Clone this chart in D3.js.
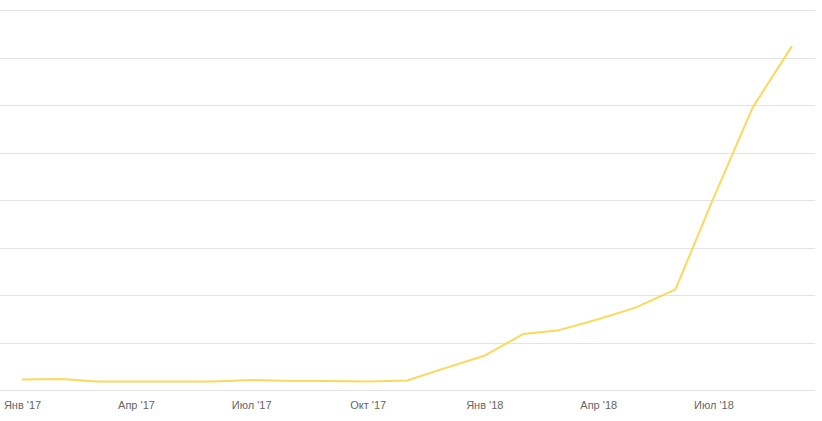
<!DOCTYPE html>
<html>
<head>
<meta charset="utf-8">
<script src="https://cdn.jsdelivr.net/npm/d3@7"></script>
<style>
  body { margin: 0; background: #fff; }
  svg { display: block; font-family: "Liberation Sans", Arial, sans-serif; }
</style>
</head>
<body>
<div id="chart"></div>
<script>
// monthly values, Jan 2017 .. Sep 2018
var months = [
  "2017-01", "2017-02", "2017-03", "2017-04", "2017-05", "2017-06", "2017-07",
  "2017-08", "2017-09", "2017-10", "2017-11", "2017-12",
  "2018-01", "2018-02", "2018-03", "2018-04", "2018-05", "2018-06", "2018-07",
  "2018-08", "2018-09"
];
var values = [22, 23, 18, 18, 18, 18, 21, 19, 19, 18, 20, 46,
  72, 118, 126, 149, 174, 212, 404, 595, 724];

var yTicks = [0, 100, 200, 300, 400, 500, 600, 700, 800];
var monthNames = ["Янв", "Фев", "Мар", "Апр", "Май", "Июн", "Июл", "Авг", "Сен", "Окт", "Ноя", "Дек"];

var ctx = { w: 822, h: 421 };

var parse = d3.timeParse("%Y-%m");
var data = months.map(function (m, i) { return { date: parse(m), value: values[i] }; });

var svg = d3.select("#chart").append("svg")
  .attr("width", ctx.w)
  .attr("height", ctx.h);

var x = d3.scaleTime()
  .domain([parse("2017-01"), parse("2018-09")])
  .range([22, 792]);

var y = d3.scaleLinear()
  .domain([0, 800])
  .range([390, 10]);

// horizontal grid
svg.append("g")
  .selectAll("line")
  .data(yTicks)
  .enter()
  .append("line")
  .attr("x1", 0)
  .attr("x2", 815)
  .attr("y1", function (d) { return Math.round(y(d)) + 0.5; })
  .attr("y2", function (d) { return Math.round(y(d)) + 0.5; })
  .attr("stroke", "#e3e3e3")
  .attr("stroke-width", 1);

// x axis labels
var xAxis = d3.axisBottom(x)
  .tickValues(d3.timeMonth.every(3).range(parse("2017-01"), parse("2018-09")))
  .tickSize(0)
  .tickPadding(0)
  .tickFormat(function (d) {
    return monthNames[d.getMonth()] + " '" + d3.timeFormat("%y")(d);
  });

var gx = svg.append("g")
  .attr("transform", "translate(0,401)")
  .call(xAxis);
gx.select(".domain").remove();
gx.selectAll("text")
  .attr("fill", "#666")
  .style("font-size", "11px");

// line
var line = d3.line()
  .x(function (d) { return x(d.date); })
  .y(function (d) { return y(d.value); });

svg.append("path")
  .datum(data)
  .attr("d", line)
  .attr("fill", "none")
  .attr("stroke", "#fcd85c")
  .attr("stroke-width", 2)
  .attr("stroke-linejoin", "round");
</script>
</body>
</html>
